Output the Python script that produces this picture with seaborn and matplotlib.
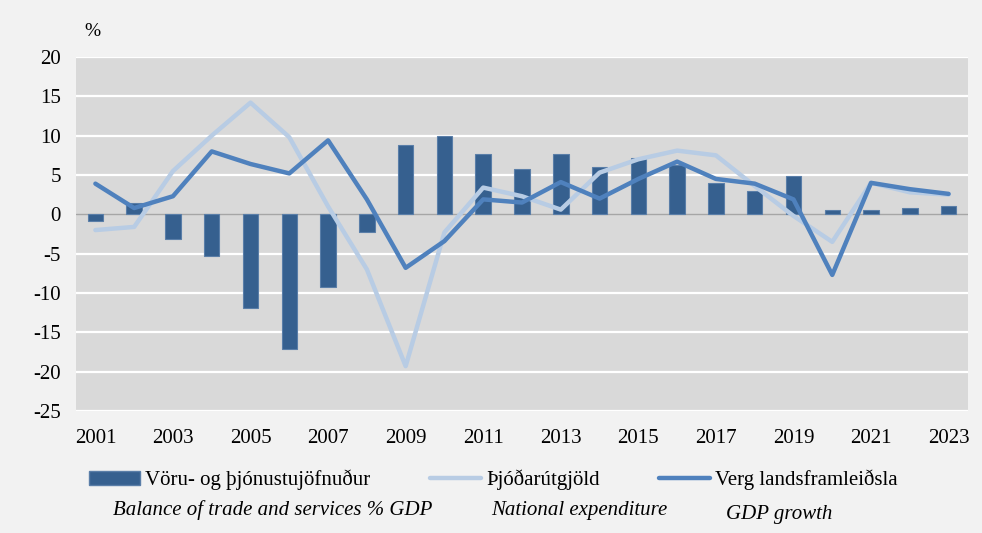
import numpy as np
import pandas as pd
import matplotlib
matplotlib.use("Agg")
import matplotlib.pyplot as plt
import seaborn as sns
from matplotlib.patches import Patch
from matplotlib.lines import Line2D

years = list(range(2001, 2024))
trade_balance = [-0.9, 1.5, -3.1, -5.3, -11.9, -17.1, -9.2, -2.3, 8.8, 9.9, 7.7, 5.8,
                 7.7, 6.0, 7.1, 6.3, 4.0, 3.0, 4.9, 0.6, 0.6, 0.8, 1.0]
national_exp = [-2.0, -1.6, 5.5, 10.0, 14.2, 9.8, 1.0, -7.0, -19.3, -2.3, 3.4, 2.3,
                0.6, 5.3, 7.0, 8.1, 7.5, 3.6, -0.2, -3.5, 4.0, 2.8, 2.5]
gdp_growth = [3.9, 0.8, 2.3, 8.0, 6.4, 5.2, 9.4, 1.9, -6.8, -3.4, 1.9, 1.5,
              4.1, 2.0, 4.5, 6.7, 4.5, 3.9, 1.9, -7.7, 4.0, 3.2, 2.6]
xtick_years = list(range(2001, 2024, 2))
yticks = list(range(-25, 21, 5))

label_trade = "Vöru- og þjónustujöfnuður"
label_nat = "Þjóðarútgjöld"
label_gdp = "Verg landsframleiðsla"
en_trade = "Balance of trade and services % GDP"
en_nat = "National expenditure"
en_gdp = "GDP growth"

df = pd.DataFrame({"year": years, "trade": trade_balance,
                   "nat": national_exp, "gdp": gdp_growth})

sns.set_theme(style="white")
plt.rcParams["font.family"] = ["Liberation Serif", "DejaVu Serif"]
plt.rcParams["text.color"] = "black"

BAR = "#36608F"
LIGHT = "#B8CCE4"
DARK = "#4F81BD"
W = 982 / 100
H = 533 / 100

fig = plt.figure(figsize=(W, H), dpi=100, facecolor="#F2F2F2")
ax = fig.add_axes([76 / 982, 1 - 411 / 533, (968 - 76) / 982, (411 - 57) / 533])
ax.set_facecolor("#D9D9D9")

sns.barplot(data=df, x="year", y="trade", native_scale=True, width=0.4,
            color=BAR, edgecolor="#5A7EA8", linewidth=0.8, errorbar=None,
            saturation=1, ax=ax, zorder=3)
sns.lineplot(data=df, x="year", y="nat", color=LIGHT, linewidth=3.2,
             solid_capstyle="round", solid_joinstyle="round", ax=ax, zorder=4)
sns.lineplot(data=df, x="year", y="gdp", color=DARK, linewidth=3.2,
             solid_capstyle="round", solid_joinstyle="round", ax=ax, zorder=5)

ax.set_xlim(2000.5, 2023.5)
ax.set_ylim(-25, 20)
ax.set_yticks(yticks)
ax.set_yticklabels([str(v) for v in yticks])
ax.set_xticks(xtick_years)
ax.set_xticklabels([str(v) for v in xtick_years])
ax.grid(False)
for v in yticks:
    if v != 0:
        ax.axhline(v, color="white", linewidth=1.6, zorder=1)
ax.axhline(0, color="#A6A6A6", linewidth=1.0, zorder=2)
for s in ax.spines.values():
    s.set_visible(False)
ax.tick_params(axis="both", length=0, labelsize=15, colors="black")
ax.tick_params(axis="y", pad=11)
ax.tick_params(axis="x", pad=13)
ax.set_xlabel("")
ax.set_ylabel("")

fig.text(92 / 982, 1 - 32 / 533, "%", fontsize=14, ha="center", va="center",
         color="black")

ly = 1 - 480 / 533
handles = [
    (Patch(facecolor=BAR, edgecolor="#5A7EA8"), label_trade, 89),
    (Line2D([0], [0], color=LIGHT, linewidth=3.2, solid_capstyle="round"), label_nat, 430),
    (Line2D([0], [0], color=DARK, linewidth=3.2, solid_capstyle="round"), label_gdp, 659),
]
for h, lab, x in handles:
    leg = fig.legend([h], [lab], loc="center left", bbox_to_anchor=(x / 982, ly),
                     frameon=False, fontsize=15, borderpad=0, borderaxespad=0,
                     handlelength=2.45, handletextpad=0.25, handleheight=0.6,
                     labelcolor="black")

fig.text(113 / 982, 1 - 510 / 533, en_trade, fontsize=15, style="italic",
         ha="left", va="center", color="black")
fig.text(491 / 982, 1 - 510 / 533, en_nat, fontsize=15, style="italic",
         ha="left", va="center", color="black")
fig.text(726 / 982, 1 - 515 / 533, en_gdp, fontsize=15, style="italic",
         ha="left", va="center", color="black")

fig.savefig("out.png", dpi=100, facecolor=fig.get_facecolor())
